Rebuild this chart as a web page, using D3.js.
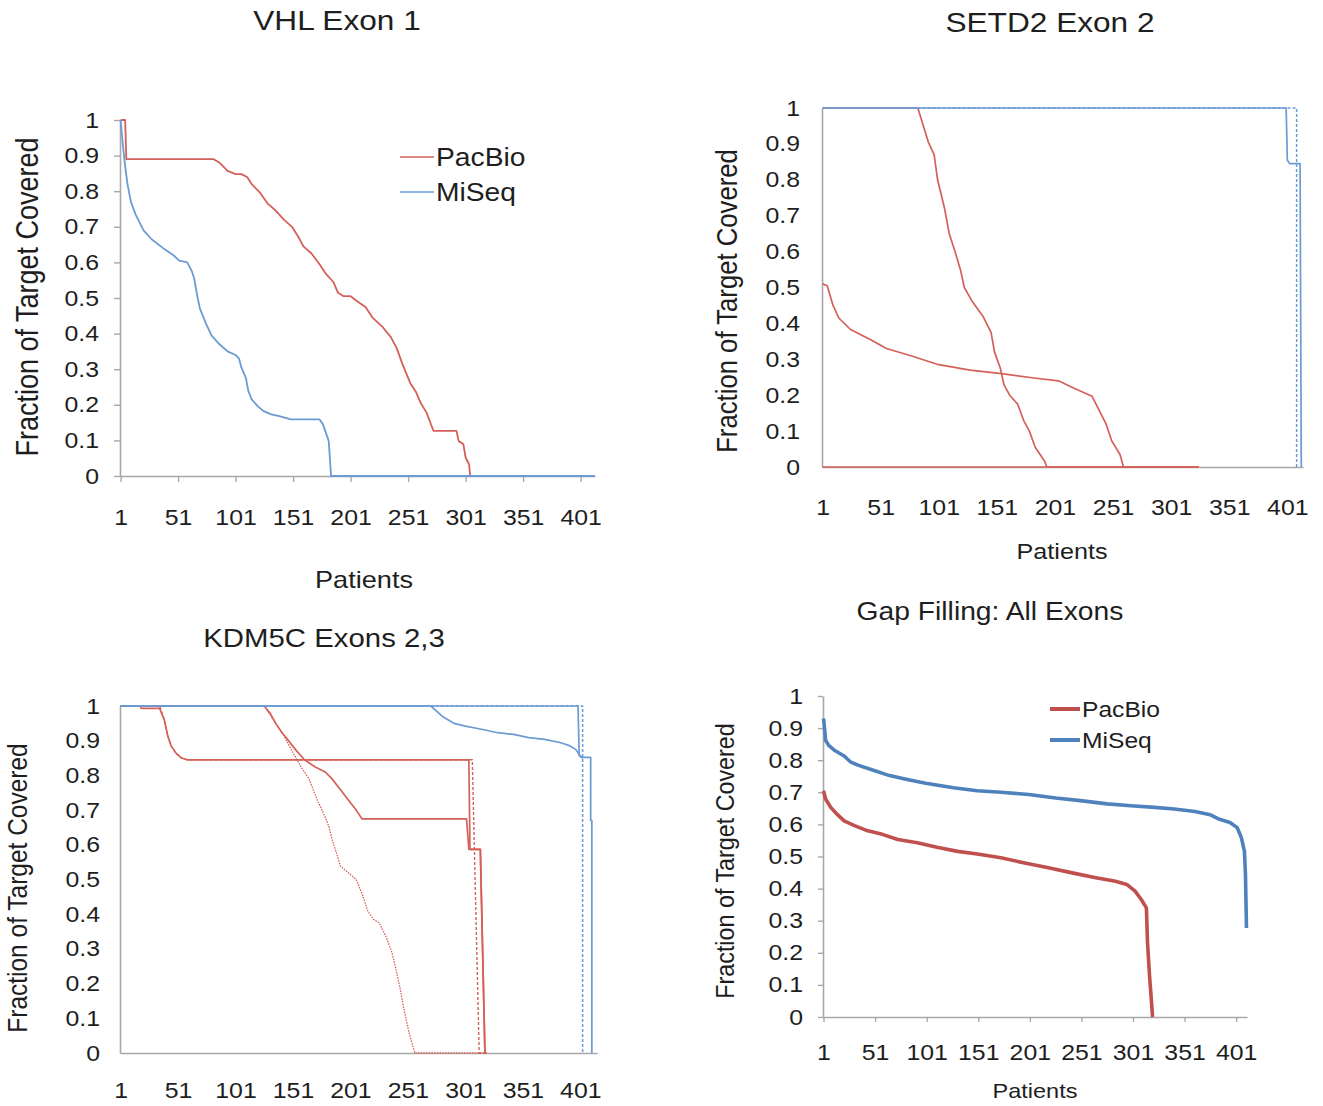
<!DOCTYPE html>
<html>
<head>
<meta charset="utf-8">
<script src="https://cdn.jsdelivr.net/npm/d3@7"></script>
<style>
  body { margin: 0; background: #fff; }
  svg { display: block; font-family: 'Liberation Sans', Arial, sans-serif; }
</style>
</head>
<body>
<div id="chart"></div>
<script>
// Coverage curves: fraction of target covered per patient, PacBio vs MiSeq

// Shared axis labels
const patientTicks = [1, 51, 101, 151, 201, 251, 301, 351, 401];
const fractionTicks = [0, 0.1, 0.2, 0.3, 0.4, 0.5, 0.6, 0.7, 0.8, 0.9, 1];
const fractionLabels = ['0', '0.1', '0.2', '0.3', '0.4', '0.5', '0.6', '0.7', '0.8', '0.9', '1'];
const legendNames = ['PacBio', 'MiSeq'];
const panelTitles = ['VHL Exon 1', 'SETD2 Exon 2', 'KDM5C Exons 2,3', 'Gap Filling: All Exons'];
const xTitle = 'Patients';
const yTitle = 'Fraction of Target Covered';
const patientCounts = [413, 414, 415, 411];

// VHL Exon 1  [patient, fraction]
const vhlPacBio = [[1,1],[5,1],[6,0.89],[82,0.89],[87,0.88],[94,0.857],[101,0.848],[106,0.848],[111,0.84],
  [115,0.82],[122,0.797],[129,0.765],[136,0.745],[143,0.72],[150,0.70],[155,0.675],[160,0.645],[167,0.625],
  [174,0.595],[179,0.57],[186,0.545],[190,0.515],[195,0.505],[201,0.505],[207,0.49],[214,0.475],[220,0.445],
  [229,0.418],[236,0.39],[241,0.36],[246,0.315],[253,0.26],[258,0.235],[262,0.205],[267,0.178],[273,0.127],
  [293,0.127],[295,0.098],[299,0.09],[301,0.052],[304,0.033],[305,0],[413,0]];
const vhlMiSeq = [[1,1],[3,0.93],[5,0.87],[7,0.82],[10,0.77],[14,0.735],[21,0.69],[28,0.665],[38,0.64],
  [47,0.62],[52,0.605],[59,0.60],[63,0.575],[65,0.555],[68,0.50],[70,0.47],[75,0.43],[80,0.395],[87,0.37],
  [94,0.35],[101,0.34],[104,0.33],[106,0.305],[110,0.275],[112,0.24],[115,0.215],[120,0.197],[125,0.183],
  [132,0.173],[139,0.168],[149,0.159],[174,0.159],[177,0.145],[180,0.117],[182,0.098],[184,0],[413,0]];

// SETD2 Exon 2
const setd2PacBioA = [[1,1],[83,1],[92,0.905],[97,0.87],[100,0.80],[106,0.72],[110,0.65],[115,0.60],
  [120,0.545],[123,0.50],[130,0.46],[139,0.42],[146,0.375],[149,0.32],[154,0.275],[157,0.23],[162,0.20],
  [169,0.175],[174,0.13],[179,0.10],[184,0.055],[192,0.017],[194,0],[325,0]];
const setd2PacBioB = [[1,0.51],[5,0.505],[10,0.45],[15,0.415],[25,0.383],[42,0.355],[56,0.33],[77,0.31],
  [101,0.285],[128,0.27],[155,0.26],[183,0.248],[204,0.24],[217,0.22],[233,0.197],[238,0.165],[245,0.12],
  [250,0.072],[257,0.035],[260,0],[325,0]];
const setd2PacBioC = [[1,0],[325,0]];
const setd2MiSeq = [[1,1],[400,1],[401,0.855],[403,0.845],[412,0.845],[413,0]];
const setd2MiSeqDashed = [[1,1],[409,1],[409,0]];

// KDM5C Exons 2,3
const kdmPacBioA = [[1,1],[18,1],[19,0.993],[35,0.993],[39,0.96],[42,0.915],[45,0.885],[49,0.865],[54,0.85],
  [59,0.845],[304,0.845],[305,0.587],[314,0.587],[318,0]];
const kdmPacBioB = [[1,1],[126,1],[131,0.98],[136,0.95],[141,0.925],[146,0.905],[153,0.875],[161,0.845],
  [170,0.825],[179,0.81],[185,0.79],[192,0.76],[199,0.73],[206,0.70],[211,0.675],[302,0.675],[304,0.587],
  [314,0.587],[318,0]];
const kdmPacBioDashed = [[1,1],[35,1],[39,0.96],[42,0.915],[45,0.885],[49,0.865],[54,0.85],[59,0.845],
  [307,0.845],[313,0],[320,0]];
const kdmPacBioDotted = [[1,1],[126,1],[134,0.96],[143,0.915],[151,0.865],[158,0.825],[165,0.79],[172,0.73],
  [179,0.68],[182,0.655],[185,0.615],[189,0.575],[192,0.54],[199,0.52],[206,0.50],[211,0.46],[216,0.41],
  [221,0.385],[226,0.375],[232,0.335],[237,0.29],[240,0.25],[244,0.19],[247,0.135],[252,0.058],[257,0],[320,0]];
const kdmMiSeqStep = [[1,1],[399,1],[400,0.857],[402,0.852],[410,0.852],[410,0.67],[411,0.67],[411,0]];
const kdmMiSeqCurve = [[1,1],[271,1],[281,0.97],[291,0.95],[301,0.942],[315,0.933],[329,0.923],[343,0.918],
  [356,0.909],[370,0.904],[384,0.894],[392,0.885],[397,0.875],[401,0.856],[403,0.85]];
const kdmMiSeqDashed = [[1,1],[403,1],[403,0]];

// Gap Filling: All Exons
const gapPacBio = [[1,0.705],[3,0.679],[8,0.653],[14,0.632],[21,0.611],[31,0.596],[42,0.582],[58,0.569],
  [73,0.553],[92,0.543],[111,0.529],[131,0.516],[150,0.508],[173,0.496],[196,0.48],[219,0.465],[242,0.449],
  [265,0.434],[284,0.423],[295,0.413],[303,0.392],[309,0.366],[314,0.34],[315,0.235],[317,0.13],[320,0]];
const gapMiSeq = [[1,0.93],[2,0.9],[3,0.862],[6,0.846],[12,0.83],[21,0.813],[27,0.795],[35,0.784],[50,0.768],
  [65,0.752],[81,0.741],[100,0.728],[127,0.714],[150,0.705],[173,0.70],[200,0.693],[226,0.682],[250,0.674],
  [276,0.664],[299,0.658],[322,0.653],[341,0.648],[361,0.64],[376,0.63],[384,0.617],[395,0.606],[402,0.59],
  [406,0.559],[409,0.517],[410,0.444],[411,0.277]];

// Styles
const sx = 1.13; // the source figure is slightly stretched sideways
const red = '#d5605a', blue = '#6b9bd3';
const redBold = '#c0504d', blueBold = '#4f81bd';
const axisColor = '#a8a8a8', textColor = '#1e1e1e';
const tickFont = 22;

const panels = [
  { title: panelTitles[0], n: patientCounts[0],
    left: 120, right: 595, top: 120, bottom: 476,
    titlePos: [337, 20, 28], yLabelPos: [27, 297, 27], xLabelPos: [364, 580, 24],
    tickSize: 6, xPad: 27, yPad: 12.6,
    series: [
      {data: vhlPacBio, color: red, width: 1.8},
      {data: vhlMiSeq, color: blue, width: 1.8}
    ],
    legend: {x: 400, ys: [157, 192], len: 34, size: 25, width: 1.7, colors: [red, blue]} },
  { title: panelTitles[1], n: patientCounts[1],
    left: 822, right: 1303, top: 108, bottom: 467,
    titlePos: [1050, 22, 28], yLabelPos: [727, 301, 25.7], xLabelPos: [1062, 551, 22.3],
    tickSize: 0, xPad: 32, yPad: 19.5,
    series: [
      {data: setd2PacBioC, color: red, width: 1.7},
      {data: setd2PacBioA, color: red, width: 1.7},
      {data: setd2PacBioB, color: red, width: 1.7},
      {data: setd2MiSeqDashed, color: blue, width: 1.5, dash: '3,2'},
      {data: setd2MiSeq, color: blue, width: 1.7}
    ] },
  { title: panelTitles[2], n: patientCounts[2],
    left: 120, right: 597, top: 706, bottom: 1053,
    titlePos: [324, 638, 26], yLabelPos: [17, 888, 24.5], xLabelPos: null,
    tickSize: 0, xPad: 29, yPad: 17.7,
    series: [
      {data: kdmPacBioDotted, color: red, width: 1.3, dash: '1.5,1.2'},
      {data: kdmPacBioDashed, color: red, width: 1.4, dash: '3,2'},
      {data: kdmPacBioB, color: red, width: 1.7},
      {data: kdmPacBioA, color: red, width: 1.7},
      {data: kdmMiSeqDashed, color: blue, width: 1.5, dash: '3,2'},
      {data: kdmMiSeqCurve, color: blue, width: 1.7},
      {data: kdmMiSeqStep, color: blue, width: 1.7}
    ] },
  { title: panelTitles[3], n: patientCounts[3],
    left: 823, right: 1247, top: 696, bottom: 1017,
    titlePos: [990, 611, 25], yLabelPos: [725, 861, 23.3], xLabelPos: [1035, 1091, 20.8],
    tickSize: 5, xPad: 22, yPad: 12.7,
    series: [
      {data: gapPacBio, color: redBold, width: 3.6},
      {data: gapMiSeq, color: blueBold, width: 3.6}
    ],
    legend: {x: 1050, ys: [709, 740], len: 30, size: 21.8, width: 4, colors: [redBold, blueBold]} }
];

let svg = d3.select('#chart')
  .append('svg')
  .attr('width', 1323)
  .attr('height', 1106);

// text helper: centred, stretched sideways like the source
function addText(g, x, y, str, size, rotate) {
  g.append('text')
    .attr('transform', 'translate(' + x + ',' + y + ') scale(' + sx + ',1)' + (rotate ? ' rotate(-90)' : ''))
    .attr('text-anchor', 'middle')
    .attr('dy', '0.35em')
    .attr('fill', textColor)
    .style('font-size', size + 'px')
    .text(str);
}

panels.forEach(function(p) {
  let g = svg.append('g');

  let xScale = d3.scaleLinear().domain([0.5, p.n + 0.5]).range([p.left, p.right]);
  let yScale = d3.scaleLinear().domain([0, 1]).range([p.bottom, p.top]);

  // x axis
  let xAxis = d3.axisBottom(xScale)
    .tickValues(patientTicks)
    .tickFormat(d3.format('d'))
    .tickSize(p.tickSize)
    .tickSizeOuter(0)
    .tickPadding(p.xPad);
  let gx = g.append('g')
    .attr('transform', 'translate(0,' + p.bottom + ')')
    .call(xAxis);

  // y axis
  let yAxis = d3.axisLeft(yScale)
    .tickValues(fractionTicks)
    .tickFormat(function(d, i) { return fractionLabels[i]; })
    .tickSize(p.tickSize)
    .tickSizeOuter(0)
    .tickPadding(p.yPad);
  let gy = g.append('g')
    .attr('transform', 'translate(' + p.left + ',0)')
    .call(yAxis);

  [gx, gy].forEach(function(ax) {
    ax.select('.domain').attr('stroke', axisColor).attr('stroke-width', 1.6);
    ax.selectAll('.tick line').attr('stroke', axisColor).attr('stroke-width', 1.4);
    ax.selectAll('.tick text')
      .attr('fill', textColor)
      .style('font-size', tickFont + 'px')
      .style('font-family', "'Liberation Sans', Arial, sans-serif")
      .attr('transform', 'scale(' + sx + ',1)');
  });

  // series
  let line = d3.line()
    .x(function(d) { return xScale(d[0]); })
    .y(function(d) { return yScale(d[1]); });

  p.series.forEach(function(s) {
    g.append('path')
      .datum(s.data)
      .attr('d', line)
      .attr('fill', 'none')
      .attr('stroke', s.color)
      .attr('stroke-width', s.width)
      .attr('stroke-linejoin', 'round')
      .attr('stroke-dasharray', s.dash || null);
  });

  // titles
  addText(g, p.titlePos[0], p.titlePos[1], p.title, p.titlePos[2], false);
  addText(g, p.yLabelPos[0], p.yLabelPos[1], yTitle, p.yLabelPos[2], true);
  if (p.xLabelPos) {
    addText(g, p.xLabelPos[0], p.xLabelPos[1], xTitle, p.xLabelPos[2], false);
  }

  // legend
  if (p.legend) {
    let lg = p.legend;
    legendNames.forEach(function(name, i) {
      g.append('line')
        .attr('x1', lg.x).attr('x2', lg.x + lg.len)
        .attr('y1', lg.ys[i]).attr('y2', lg.ys[i])
        .attr('stroke', lg.colors[i])
        .attr('stroke-width', lg.width);
      g.append('text')
        .attr('transform', 'translate(' + (lg.x + lg.len + 2) + ',' + lg.ys[i] + ') scale(' + sx + ',1)')
        .attr('dy', '0.35em')
        .attr('fill', textColor)
        .style('font-size', lg.size + 'px')
        .text(name);
    });
  }
});
</script>
</body>
</html>
